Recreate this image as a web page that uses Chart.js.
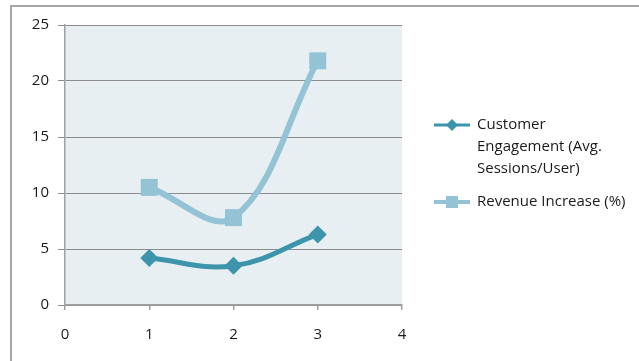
<!DOCTYPE html>
<html>
<head>
<meta charset="utf-8">
<script src="https://cdn.jsdelivr.net/npm/chart.js@4/dist/chart.umd.min.js"></script>
<style>
  html, body { margin: 0; padding: 0; background: #ffffff; overflow: hidden; }
  #wrap { position: relative; width: 639px; height: 361px; }
  #frame { position: absolute; left: 10px; top: 5px; width: 700px; height: 400px;
           border-left: 2px solid #a6a6a6; border-top: 2px solid #a6a6a6; box-sizing: border-box; }
  #c { position: absolute; left: 0; top: 0; }
</style>
</head>
<body>
<div id="wrap">
  <div id="frame"></div>
  <canvas id="c" width="639" height="361"></canvas>
</div>
<script>
// ---- data ----
const xValues = [1, 2, 3];
const engagementValues = [4.2, 3.5, 6.3];
const revenueValues = [10.5, 7.8, 21.8];
const seriesNames = ["Customer Engagement (Avg. Sessions/User)", "Revenue Increase (%)"];
const legendLines = [["Customer", "Engagement (Avg.", "Sessions/User)"], ["Revenue Increase (%)"]];
const xTicks = [0, 1, 2, 3, 4];
const yTicks = [0, 5, 10, 15, 20, 25];

const colEng = "#3d95ab";
const colRev = "#93c3d5";
const FONT = "'Open Sans', Lato, sans-serif";

const toPts = (xs, ys) => xs.map((x, i) => ({ x: x, y: ys[i] }));

const bgPlugin = {
  id: 'bg',
  beforeDraw(chart) {
    const { ctx, chartArea: a } = chart;
    ctx.save();
    ctx.fillStyle = "#e7eff2";
    ctx.fillRect(a.left, a.top, a.right - a.left, a.bottom - a.top);
    ctx.restore();
  }
};

const legendPlugin = {
  id: 'customLegend',
  afterDraw(chart) {
    const ctx = chart.ctx;
    ctx.save();
    ctx.font = "15px " + FONT;
    ctx.textBaseline = "middle";
    const items = [
      { color: colEng, style: 'diamond', y: 125, lines: legendLines[0], lw: 3 },
      { color: colRev, style: 'square', y: 202, lines: legendLines[1], lw: 4 }
    ];
    items.forEach(it => {
      ctx.strokeStyle = it.color;
      ctx.lineWidth = it.lw;
      ctx.beginPath();
      ctx.moveTo(434, it.y);
      ctx.lineTo(470, it.y);
      ctx.stroke();
      ctx.fillStyle = it.color;
      const cx = 452;
      if (it.style === 'diamond') {
        ctx.beginPath();
        ctx.moveTo(cx, it.y - 6);
        ctx.lineTo(cx + 6, it.y);
        ctx.lineTo(cx, it.y + 6);
        ctx.lineTo(cx - 6, it.y);
        ctx.closePath();
        ctx.fill();
      } else {
        ctx.fillRect(cx - 6, it.y - 6, 12, 12);
      }
      ctx.fillStyle = "#1a1a1a";
      it.lines.forEach((t, i) => ctx.fillText(t, 477, it.y + i * 22));
    });
    ctx.restore();
  }
};

new Chart(document.getElementById('c'), {
  type: 'scatter',
  data: {
    datasets: [
      {
        label: seriesNames[0],
        data: toPts(xValues, engagementValues),
        showLine: true,
        borderColor: colEng,
        backgroundColor: colEng,
        borderWidth: 5,
        tension: 0.4,
        pointStyle: 'rectRot',
        pointRadius: 9,
        pointHoverRadius: 9,
        pointBorderWidth: 0
      },
      {
        label: seriesNames[1],
        data: toPts(xValues, revenueValues),
        showLine: true,
        borderColor: colRev,
        backgroundColor: colRev,
        borderWidth: 6,
        tension: 0.37,
        pointStyle: 'rect',
        pointRadius: 12,
        pointHoverRadius: 12,
        pointBorderWidth: 0
      }
    ]
  },
  options: {
    responsive: false,
    animation: false,
    events: [],
    layout: { padding: { top: 25, right: 237, left: 0, bottom: 0 } },
    plugins: { legend: { display: false }, tooltip: { enabled: false } },
    scales: {
      x: {
        type: 'linear',
        min: 0, max: 4,
        afterBuildTicks(s) { s.ticks = xTicks.map(v => ({ value: v })); },
        afterFit(s) { s.height = 56; },
        border: { color: '#a0a0a0', width: 1.5 },
        grid: { drawOnChartArea: false, drawTicks: true, tickLength: 5, color: '#a0a0a0', lineWidth: 1.5 },
        ticks: { color: '#1a1a1a', font: { family: FONT, size: 15 }, padding: 16 }
      },
      y: {
        min: 0, max: 25,
        afterBuildTicks(s) { s.ticks = yTicks.map(v => ({ value: v })); },
        afterFit(s) { s.width = 65; },
        border: { color: '#a0a0a0', width: 1.5 },
        grid: { color: '#8c8c8c', lineWidth: 1, drawTicks: true, tickLength: 7 },
        ticks: { color: '#1a1a1a', font: { family: FONT, size: 15 }, padding: 9 }
      }
    }
  },
  plugins: [bgPlugin, legendPlugin]
});
</script>
</body>
</html>
